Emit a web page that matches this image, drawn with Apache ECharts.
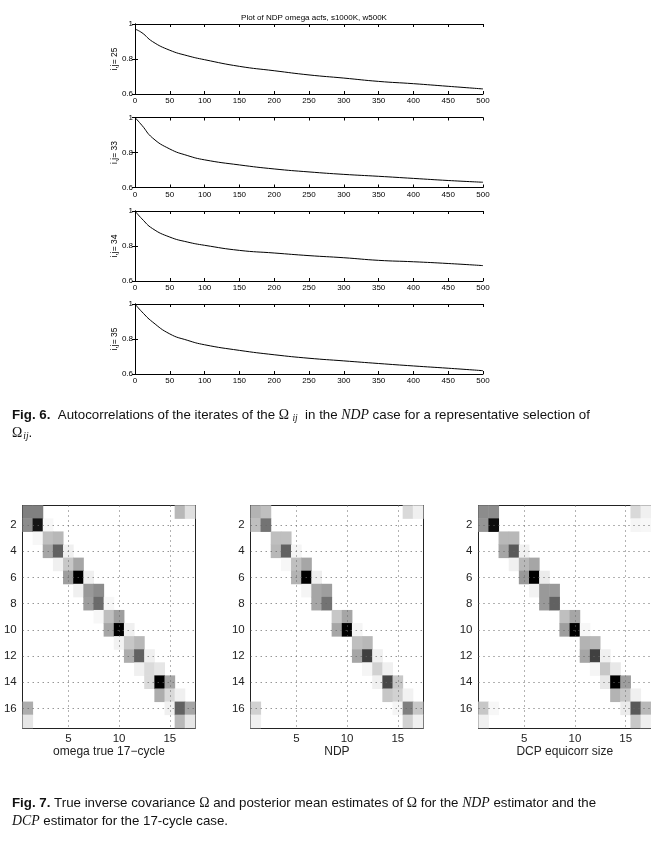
<!DOCTYPE html>
<html>
<head>
<meta charset="utf-8">
<script src="https://cdn.jsdelivr.net/npm/echarts@6/dist/echarts.min.js"></script>
<style>
html,body{margin:0;padding:0;background:#fff;}
#c{width:651px;height:866px;}
</style>
</head>
<body>
<div id="c"></div>
<script>
// ---------- data: autocorrelation panels ----------
const lagsX = [0, 10, 25, 50, 75, 100, 150, 200, 250, 300, 350, 400, 450, 500];
const acf25 = [0.971, 0.950, 0.900, 0.850, 0.819, 0.796, 0.758, 0.733, 0.709, 0.691, 0.672, 0.659, 0.644, 0.629];
const acf33 = [1.000, 0.955, 0.884, 0.820, 0.783, 0.758, 0.729, 0.706, 0.689, 0.675, 0.664, 0.652, 0.640, 0.630];
const acf34 = [1.000, 0.955, 0.900, 0.851, 0.823, 0.804, 0.775, 0.760, 0.745, 0.733, 0.718, 0.710, 0.700, 0.688];
const acf35 = [1.000, 0.955, 0.898, 0.829, 0.793, 0.767, 0.735, 0.710, 0.690, 0.675, 0.660, 0.646, 0.633, 0.619];
const panelNames = ['i,j= 25', 'i,j= 33', 'i,j= 34', 'i,j= 35'];
const lineTitle = 'Plot of NDP omega acfs, s1000K, w500K';

// ---------- data: 17x17 matrices, [row, col, darkness 0..100] ----------
const hmTrue = [
 [1,1,50],[1,2,50],[1,16,28],[1,17,12],
 [2,1,45],[2,2,92],[2,3,3],
 [3,2,3],[3,3,25],[3,4,28],
 [4,3,35],[4,4,62],[4,5,6],
 [5,4,6],[5,5,22],[5,6,35],
 [6,5,38],[6,6,100],[6,7,6],
 [7,6,6],[7,7,40],[7,8,45],
 [8,7,38],[8,8,58],[8,9,3],
 [9,8,3],[9,9,25],[9,10,38],
 [10,9,35],[10,10,100],[10,11,6],
 [11,10,5],[11,11,22],[11,12,28],
 [12,11,32],[12,12,62],[12,13,6],
 [13,12,6],[13,13,14],[13,14,10],
 [14,13,14],[14,14,100],[14,15,35],
 [15,14,32],[15,15,15],[15,16,6],
 [16,1,32],[16,15,6],[16,16,62],[16,17,35],
 [17,1,10],[17,16,28],[17,17,10]
];
const hmNdp = [
 [1,1,30],[1,2,25],[1,16,15],[1,17,6],
 [2,1,25],[2,2,55],
 [3,3,25],[3,4,25],
 [4,3,28],[4,4,62],[4,5,4],
 [5,4,3],[5,5,25],[5,6,35],
 [6,5,30],[6,6,100],[6,7,6],
 [7,6,4],[7,7,35],[7,8,38],
 [8,7,35],[8,8,55],
 [9,9,22],[9,10,35],
 [10,9,35],[10,10,100],[10,11,4],
 [11,11,25],[11,12,28],
 [12,11,35],[12,12,75],[12,13,6],
 [13,12,4],[13,13,18],[13,14,6],
 [14,13,6],[14,14,72],[14,15,22],
 [15,14,22],[15,15,18],[15,16,5],
 [16,1,18],[16,15,4],[16,16,50],[16,17,22],
 [17,1,6],[17,16,18],[17,17,6]
];
const hmDcp = [
 [1,1,45],[1,2,45],[1,16,15],[1,17,6],
 [2,1,42],[2,2,95],[2,16,4],[2,17,3],
 [3,3,28],[3,4,28],
 [4,3,35],[4,4,65],[4,5,6],
 [5,4,6],[5,5,28],[5,6,35],
 [6,5,40],[6,6,100],[6,7,8],
 [7,6,5],[7,7,40],[7,8,40],
 [8,7,40],[8,8,62],
 [9,9,25],[9,10,35],
 [10,9,38],[10,10,100],[10,11,3],
 [11,11,30],[11,12,28],
 [12,11,35],[12,12,75],[12,13,6],
 [13,12,4],[13,13,22],[13,14,9],
 [14,13,9],[14,14,100],[14,15,38],
 [15,14,30],[15,15,22],[15,16,6],
 [16,1,22],[16,2,3],[16,15,8],[16,16,65],[16,17,28],
 [17,1,6],[17,16,22],[17,17,6]
];
const hmNames = ['omega true 17\u2212cycle', 'NDP', 'DCP equicorr size'];
const hmXTicks = ['5', '10', '15'];
const hmYTicks = ['2', '4', '6', '8', '10', '12', '14', '16'];
const hmSize = 17;

// ---------- build option ----------
const FONT = 'Liberation Sans';
const cats = [];
for (let i = 1; i <= hmSize; i++) cats.push(String(i));

const grids = [], xAxes = [], yAxes = [], series = [];

const lineTops = [24, 117.5, 211, 304];
const lineSets = [acf25, acf33, acf34, acf35];
lineSets.forEach((arr, p) => {
  const g = grids.length;
  grids.push({left: 135, width: 348, top: lineTops[p], height: 70, containLabel: false});
  const common = {type: 'value', min: 0, max: 500, interval: 50, gridIndex: g,
    axisLine: {show: true, lineStyle: {color: '#000', width: 1}},
    axisTick: {show: true, inside: true, length: 3, lineStyle: {color: '#000'}},
    splitLine: {show: false}};
  xAxes.push(Object.assign({}, common, {position: 'bottom',
    axisLabel: {show: true, fontSize: 8, color: '#000', fontFamily: FONT, margin: 3}}));
  xAxes.push(Object.assign({}, common, {position: 'top', axisLabel: {show: false}}));
  const ycommon = {type: 'value', min: 0.6, max: 1, interval: 0.2, gridIndex: g,
    axisLine: {show: true, lineStyle: {color: '#000', width: 1}},
    axisTick: {show: true, inside: true, length: 3, lineStyle: {color: '#000'}},
    splitLine: {show: false}};
  yAxes.push(Object.assign({}, ycommon, {position: 'left',
    name: panelNames[p], nameLocation: 'middle', nameGap: 16, nameMoveOverlap: false,
    nameTextStyle: {fontSize: 8.5, color: '#000', fontFamily: FONT},
    axisLabel: {show: true, fontSize: 8, color: '#000', fontFamily: FONT, margin: 2,
      formatter: v => (Math.abs(v - 1) < 1e-9 ? '1' : v.toFixed(1))}}));
  yAxes.push(Object.assign({}, ycommon, {position: 'right', axisLabel: {show: false}}));
  series.push({type: 'line', xAxisIndex: 2 * g, yAxisIndex: 2 * g,
    data: lagsX.map((x, i) => [x, arr[i]]),
    showSymbol: false, smooth: 0.5,
    lineStyle: {color: '#000', width: 1}, silent: true, animation: false});
});

const hmLefts = [22.7, 250.7, 478.5];
const hmSets = [hmTrue, hmNdp, hmDcp];
const heatIdx = [];
hmSets.forEach((mat, p) => {
  const g = grids.length;
  grids.push({left: hmLefts[p], width: 172.5, top: 505.5, height: 222.5, containLabel: false});
  xAxes.push({type: 'category', data: cats, gridIndex: g, position: 'bottom',
    axisLine: {show: true, lineStyle: {color: '#222', width: 1}},
    axisTick: {show: false},
    axisLabel: {show: true, fontSize: 11.5, color: '#222', fontFamily: FONT, margin: 5,
      interval: (i, v) => hmXTicks.indexOf(v) >= 0},
    splitLine: {show: false},
    name: hmNames[p], nameLocation: 'middle', nameGap: 18,
    nameTextStyle: {fontSize: 12, color: '#222', fontFamily: FONT}});
  xAxes.push({type: 'category', data: cats, gridIndex: g, position: 'top',
    axisLine: {show: true, lineStyle: {color: '#222', width: 1}},
    axisTick: {show: false}, axisLabel: {show: false}, splitLine: {show: false}});
  yAxes.push({type: 'category', data: cats, gridIndex: g, position: 'left', inverse: true,
    axisLine: {show: true, lineStyle: {color: '#222', width: 1}},
    axisTick: {show: false},
    axisLabel: {show: true, fontSize: 11.5, color: '#222', fontFamily: FONT, margin: 6,
      interval: (i, v) => hmYTicks.indexOf(v) >= 0},
    splitLine: {show: false}});
  yAxes.push({type: 'category', data: cats, gridIndex: g, position: 'right', inverse: true,
    axisLine: {show: true, lineStyle: {color: '#222', width: 1}},
    axisTick: {show: false}, axisLabel: {show: false}, splitLine: {show: false}});
  heatIdx.push(series.length);
  series.push({type: 'heatmap', xAxisIndex: 2 * g, yAxisIndex: 2 * g,
    data: mat.map(d => [d[1] - 1, d[0] - 1, d[2]]),
    itemStyle: {borderWidth: 0}, emphasis: {disabled: true}, silent: true, animation: false, z: 1});
  const ml = [];
  hmXTicks.forEach(t => ml.push({xAxis: t}));
  hmYTicks.forEach(t => ml.push({yAxis: t}));
  series.push({type: 'line', xAxisIndex: 2 * g, yAxisIndex: 2 * g, data: [], silent: true,
    animation: false, z: 3,
    markLine: {symbol: 'none', silent: true, animation: false, label: {show: false},
      lineStyle: {type: [1, 4], color: '#666', width: 1}, emphasis: {disabled: true}, data: ml}});
});

const CF = 13.3;
const capRich = {
  b: {fontFamily: FONT, fontSize: CF, fontWeight: 'bold', fill: '#111'},
  n: {fontFamily: FONT, fontSize: CF, fill: '#111'},
  o: {fontFamily: 'Liberation Serif', fontSize: CF + 0.5, fill: '#111'},
  m: {fontFamily: 'Liberation Serif', fontSize: CF + 0.5, fontStyle: 'italic', fill: '#111'},
  s: {fontFamily: 'Liberation Serif', fontSize: 9.5, fontStyle: 'italic', fill: '#111', padding: [7, 0, 0, 1]}
};
function cap(y, text) {
  return {type: 'text', x: 12, y: y, silent: true,
    style: {text: text, rich: capRich, verticalAlign: 'middle', align: 'left',
      fontFamily: FONT, fontSize: CF, fill: '#111'}};
}

const option = {
  backgroundColor: '#fff',
  animation: false,
  title: {text: lineTitle, left: 309, top: 9, textAlign: 'center',
    textStyle: {fontSize: 8, fontWeight: 'normal', color: '#000', fontFamily: FONT}},
  grid: grids, xAxis: xAxes, yAxis: yAxes, series: series,
  visualMap: {type: 'continuous', show: false, min: 0, max: 100, seriesIndex: heatIdx,
    inRange: {color: ['#ffffff', '#000000']}},
  graphic: [
    cap(415, '{b|Fig. 6.}{n|  Autocorrelations of the iterates of the }{o|\u03a9}{s| ij}{n|  in the }{m|NDP}{n| case for a representative selection of}'),
    cap(433, '{o|\u03a9}{s|ij}{n|.}'),
    cap(803, '{b|Fig. 7.}{n| True inverse covariance }{o|\u03a9}{n| and posterior mean estimates of }{o|\u03a9}{n| for the }{m|NDP}{n| estimator and the}'),
    cap(821, '{m|DCP}{n| estimator for the 17-cycle case.}')
  ]
};

const chart = echarts.init(document.getElementById('c'), null, {renderer: 'canvas'});
chart.setOption(option);
</script>
</body>
</html>
